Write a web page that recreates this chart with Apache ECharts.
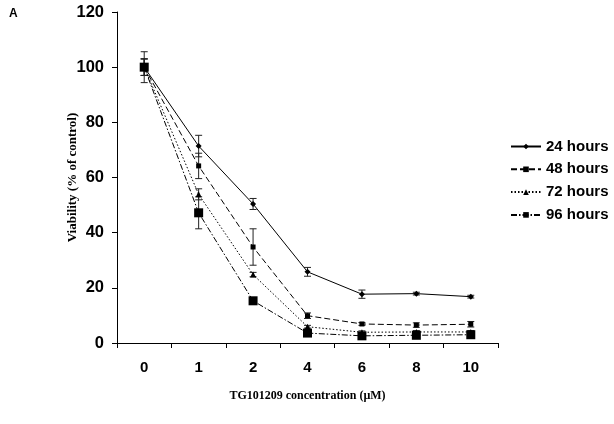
<!DOCTYPE html>
<html><head><meta charset="utf-8">
<script src="https://cdn.jsdelivr.net/npm/echarts@6/dist/echarts.min.js"></script>
<style>html,body{margin:0;padding:0;background:#fff}#c{width:614px;height:424px}</style>
</head><body><div id="c"></div>
<script>
var categories = ['0','1','2','4','6','8','10'];
var seriesNames = ['24 hours','48 hours','72 hours','96 hours'];
var v24 = [100, 71.4, 50.4, 25.8, 17.7, 17.9, 16.8];
var v48 = [100, 64.2, 34.8, 9.9, 6.9, 6.5, 6.8];
var v72 = [100, 53.9, 24.8, 5.9, 3.9, 4.0, 4.0];
var v96 = [100, 47.2, 15.3, 3.6, 2.6, 2.8, 3.0];
var e24 = [5.6, 3.9, 2.0, 1.6, 1.5, 0.5, 0.5];
var e48 = [3, 4.6, 6.6, 1.0, 0.5, 0.8, 1.0];
var e72 = [3, 2.0, 0.8, 0.5, 0.5, 0.5, 0.5];
var e96 = [3, 5.8, 0.5, 0.5, 0.5, 0.5, 0.5];
var yTicks = [0, 20, 40, 60, 80, 100, 120];

var values = [v24, v48, v72, v96];
var errors = [e24, e48, e72, e96];
var symbols = ['diamond','rect','triangle','rect'];
var symSizes = [6, 5, 6, 9];
var dashes = ['solid', [6,3], [1.5,2], [6,2,1.5,2]];

var series = [];
values.forEach(function(vals, i){
  series.push({
    name: seriesNames[i], type: 'line', data: vals,
    symbol: symbols[i], symbolSize: symSizes[i],
    lineStyle: {color:'#000', width:1, type: dashes[i]},
    itemStyle: {color:'#000'},
    z: 3
  });
  series.push({
    type: 'custom', name: seriesNames[i] + ' err', silent: true,
    data: vals.map(function(v,k){ return [k, v - errors[i][k], v + errors[i][k]]; }),
    renderItem: function(params, api){
      var lo = api.coord([api.value(0), api.value(1)]);
      var hi = api.coord([api.value(0), api.value(2)]);
      var w = 3.5;
      var st = {stroke:'#222', lineWidth:1};
      return {type:'group', children:[
        {type:'line', shape:{x1:lo[0],y1:lo[1],x2:hi[0],y2:hi[1]}, style:st},
        {type:'line', shape:{x1:lo[0]-w,y1:lo[1],x2:lo[0]+w,y2:lo[1]}, style:st},
        {type:'line', shape:{x1:hi[0]-w,y1:hi[1],x2:hi[0]+w,y2:hi[1]}, style:st}
      ]};
    },
    z: 2
  });
});

var chart = echarts.init(document.getElementById('c'));
chart.setOption({
  animation: false,
  backgroundColor: '#fff',
  title: {text:'A', left: 4, top: 3, textStyle:{fontFamily:'Liberation Sans, Arial', fontWeight:'bold', fontSize:12, color:'#000'}},
  grid: {left:117, right:116, top:12, bottom:81, containLabel:false},
  legend: {
    data: seriesNames, orient:'vertical', left: 510, top: 139, padding: 0,
    itemWidth: 30, itemHeight: 7, itemGap: 7.8,
    textStyle: {fontFamily:'Liberation Sans, Arial', fontWeight:'bold', fontSize:15, color:'#000'},
    selectedMode: false
  },
  xAxis: {
    type:'category', data: categories, boundaryGap: true,
    name: 'TG101209 concentration (µM)', nameLocation:'middle', nameGap: 47,
    nameMoveOverlap: false,
    nameTextStyle: {fontFamily:'Liberation Serif, Times New Roman', fontWeight:'bold', fontSize:12, color:'#000'},
    axisLine: {lineStyle:{color:'#000', width:1}},
    axisTick: {show:true, interval:0, length:5, lineStyle:{color:'#000'}},
    axisLabel: {interval:0, margin:17, fontFamily:'Liberation Sans, Arial', fontWeight:'bold', fontSize:15, color:'#000'},
    splitLine: {show:false}
  },
  yAxis: {
    type:'value', min: yTicks[0], max: yTicks[yTicks.length-1], interval: 20,
    name: 'Viability (% of control)', nameLocation:'middle', nameGap: 38,
    nameMoveOverlap: false,
    nameTextStyle: {fontFamily:'Liberation Serif, Times New Roman', fontWeight:'bold', fontSize:13, color:'#000'},
    axisLine: {show:true, lineStyle:{color:'#000', width:1}},
    axisTick: {show:true, length:5, lineStyle:{color:'#000'}},
    axisLabel: {margin:13, fontFamily:'Liberation Sans, Arial', fontWeight:'bold', fontSize:16.5, color:'#000'},
    splitLine: {show:false}
  },
  series: series
});
</script>
</body></html>
